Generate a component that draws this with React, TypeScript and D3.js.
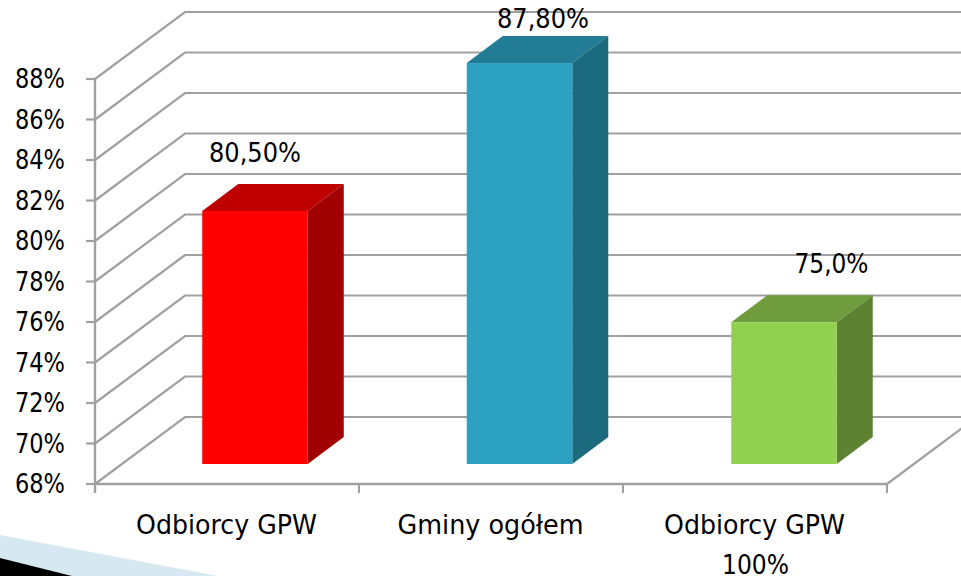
import React from "react";
import * as d3 from "d3";

const categories = ["Odbiorcy GPW", "Gminy ogółem", "Odbiorcy GPW"];
const categorySecondLine = ["", "", "100%"];
const values = [80.5, 87.8, 75.0];
const valueLabels = ["80,50%", "87,80%", "75,0%"];
const ticks = [68, 70, 72, 74, 76, 78, 80, 82, 84, 86, 88];
const frontColors = ["#ff0000", "#2ca1c1", "#92d050"];
const topColors = ["#bf0000", "#237c96", "#6f9c3d"];
const sideColors = ["#a00000", "#1c6a7d", "#5c8232"];
// data labels were moved by hand in the original chart
const labelShiftX = [0, 23.5, 47.5];
const labelShiftY = [-49, -35, -49];
const labelWidths = [92, 92, 74];
const categoryWidths = [181, 186, 181];

const W = 961, H = 576;
const y = d3.scaleLinear().domain([68, 88]).range([484, 79]);
const x = d3.scaleBand<number>().domain([0, 1, 2]).range([95, 887]).paddingInner(0).paddingOuter(0);
const WALL_DX = 90, WALL_DY = -67;
const BAR_DX = 28, BAR_DY = -20;
const BAR_W = 105.5, DEPTH_DX = 36, DEPTH_DY = -27;
const GRID = "#a0a0a0";
const FONT = "'DejaVu Sans', sans-serif";
const FS = 26;

export default function App() {
  const x0 = x(0)!, x1 = x0 + x.bandwidth() * 3;
  return (
    <svg width={W} height={H} style={{ position: "absolute", left: 0, top: 0, background: "#fff" }} fontFamily={FONT}>
      <polygon points={`0,535 218,576 0,576`} fill="#d6e8f0" />
      <polygon points={`0,558 72,576 0,576`} fill="#000" />
      {ticks.map((t) => (
        <polyline key={t} fill="none" stroke={GRID} strokeWidth={2.2}
          points={`${x0},${y(t)} ${x0 + WALL_DX},${y(t) + WALL_DY} ${W + 20},${y(t) + WALL_DY}`} />
      ))}
      <line x1={x1} y1={y(68)} x2={x1 + WALL_DX} y2={y(68) + WALL_DY} stroke={GRID} strokeWidth={2.2} />
      <line x1={x0} y1={y(88)} x2={x0} y2={y(68) + 9} stroke={GRID} strokeWidth={2.4} />
      <line x1={x0} y1={y(68)} x2={x1} y2={y(68)} stroke={GRID} strokeWidth={2.4} />
      {ticks.map((t) => (
        <g key={t}>
          <line x1={x0 - 9} x2={x0} y1={y(t)} y2={y(t)} stroke={GRID} strokeWidth={2.2} />
          <text x={65} y={y(t)} dy="0.36em" textAnchor="end" fontSize={FS} fill="#000" textLength={50} lengthAdjust="spacingAndGlyphs">{t}%</text>
        </g>
      ))}
      {[0, 1, 2, 3].map((i) => (
        <line key={i} x1={x0 + i * x.bandwidth()} x2={x0 + i * x.bandwidth()} y1={y(68)} y2={y(68) + 9} stroke={GRID} strokeWidth={2} />
      ))}
      {values.map((v, i) => {
        const cx = x(i)! + x.bandwidth() / 2 + BAR_DX + i * 0.5;
        const l = cx - BAR_W / 2, r = cx + BAR_W / 2;
        const top = y(v) + BAR_DY, bot = y(68) + BAR_DY;
        const catX = x(i)! + x.bandwidth() / 2 - 0.5;
        return (
          <g key={i}>
            <polygon points={`${l},${top} ${r},${top} ${r + DEPTH_DX},${top + DEPTH_DY} ${l + DEPTH_DX},${top + DEPTH_DY}`} fill={topColors[i]} />
            <polygon points={`${r},${top} ${r + DEPTH_DX},${top + DEPTH_DY} ${r + DEPTH_DX},${bot + DEPTH_DY} ${r},${bot}`} fill={sideColors[i]} />
            <rect x={l} y={top} width={BAR_W} height={bot - top} fill={frontColors[i]} />
            <text x={cx + labelShiftX[i]} y={top + labelShiftY[i]} textAnchor="middle" fontSize={FS} fill="#000" textLength={labelWidths[i]} lengthAdjust="spacingAndGlyphs">{valueLabels[i]}</text>
            <text x={catX} y={534} textAnchor="middle" fontSize={FS} fill="#000" textLength={categoryWidths[i]} lengthAdjust="spacingAndGlyphs">{categories[i]}</text>
            {categorySecondLine[i] && (
              <text x={catX + 1} y={574} textAnchor="middle" fontSize={FS} fill="#000" textLength={67} lengthAdjust="spacingAndGlyphs">{categorySecondLine[i]}</text>
            )}
          </g>
        );
      })}
    </svg>
  );
}
